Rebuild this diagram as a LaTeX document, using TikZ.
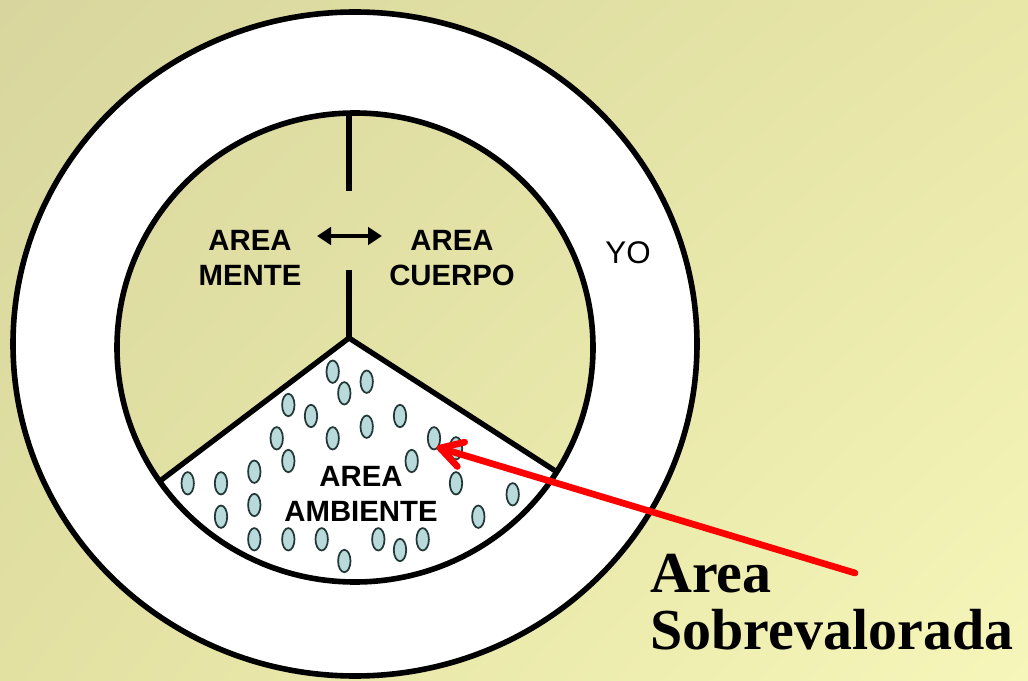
\documentclass[tikz,border=0pt]{standalone}
\usepackage{fontspec}
\setsansfont{Liberation Sans}
\newfontfamily\labelserif{Liberation Serif}
\usetikzlibrary{arrows.meta,shadings,calc}
\definecolor{bgUL}{RGB}{216,214,158}
\definecolor{bgUR}{RGB}{232,231,168}
\definecolor{bgLL}{RGB}{226,225,162}
\definecolor{bgLR}{RGB}{247,246,186}
\definecolor{dotfill}{RGB}{185,218,218}
\definecolor{dotline}{RGB}{35,55,55}
\definecolor{arrowred}{RGB}{255,0,0}
\tikzset{
  ringline/.style={line width=4.2pt, draw=black},
  divider/.style={line width=3.8pt, draw=black},
  dotshape/.style={fill=dotfill, draw=dotline, line width=1.3pt},
  arealabel/.style={font=\sffamily\bfseries\fontsize{22}{26}\selectfont, align=center, inner sep=0pt},
  yolabel/.style={font=\sffamily\fontsize{23.5}{28}\selectfont, inner sep=0pt},
  biglabel/.style={font=\labelserif\bfseries\fontsize{43.5}{43}\selectfont, inner sep=0pt, anchor=base west},
  redline/.style={draw=arrowred, line width=5pt, line cap=round, line join=round},
}
\newcommand{\spot}[2]{\fill[dotshape] (#1,#2) ellipse [x radius=6.2, y radius=11.2];}
\begin{document}
\begin{tikzpicture}[x=0.75pt, y=-0.75pt]
\useasboundingbox (0,0) rectangle (1028,681);
\shade[upper left=bgUL, upper right=bgUR, lower left=bgLL, lower right=bgLR] (0,0) rectangle (1028,681);

% centres
\coordinate (oc) at (355,344);
\coordinate (ic) at (355,347.5);
% ring (YO)
\fill[white, even odd rule] (oc) ellipse [x radius=342, y radius=332] (ic) ellipse [x radius=238, y radius=234.5];

% wedge (ambiente)
\coordinate (apex) at (349,338);
\coordinate (lext) at (-29,624);
\coordinate (rext) at (765,606);
\begin{scope}
  \clip (ic) ellipse [x radius=238, y radius=234.5];
  \fill[white] (apex) -- (lext) -- (-29,900) -- (765,900) -- (rext) -- cycle;
  \spot{332.7}{371.7}
  \spot{366.7}{381.7}
  \spot{344.3}{393.3}
  \spot{288.3}{405}
  \spot{311}{416}
  \spot{400}{416}
  \spot{366.7}{426.7}
  \spot{276.7}{438.3}
  \spot{332.7}{438.3}
  \spot{434}{438.3}
  \spot{456}{448.3}
  \spot{288.3}{461}
  \spot{411.7}{461}
  \spot{254.3}{471.7}
  \spot{187.7}{483.3}
  \spot{221}{483.3}
  \spot{456}{483.3}
  \spot{512.7}{494.3}
  \spot{221}{516.7}
  \spot{254.3}{505}
  \spot{478.3}{516.7}
  \spot{254.3}{539.3}
  \spot{288.3}{539.3}
  \spot{321.7}{539.3}
  \spot{378.3}{539.3}
  \spot{422.7}{539.3}
  \spot{400}{550}
  \spot{344.3}{561}
  \draw[divider, line width=4pt, line join=miter] (lext) -- (apex) -- (rext);
\end{scope}

% vertical divider
\coordinate (vtop) at (349,113);
\coordinate (vtopend) at (349,191);
\coordinate (vbot) at (349,270);
\draw[divider] (vtop) -- (vtopend);
\draw[divider] (vbot) -- (apex);

% circles
\draw[ringline] (oc) ellipse [x radius=342, y radius=332];
\draw[ringline] (ic) ellipse [x radius=238, y radius=234.5];

% double arrow
\coordinate (dl) at (317,236);
\coordinate (dr) at (382,236);
\draw[line width=2.8pt, {Triangle[length=10.5pt,width=13pt]}-{Triangle[length=10.5pt,width=13pt]}] (dl) -- (dr);

% labels
\node[arealabel] (mente) at (250,258) {AREA\\MENTE};
\node[arealabel] (cuerpo) at (452,258) {AREA\\CUERPO};
\node[arealabel] (ambiente) at (361,494) {AREA\\AMBIENTE};
\node[yolabel] (yo) at (628,253) {YO};
\node[biglabel] (area) at (650,592) {Area};
\node[biglabel] (sobre) at (650,649) {Sobrevalorada};

% red arrow
\coordinate (rstart) at (855,573);
\coordinate (rtip) at (440,448);
\draw[redline] (rstart) -- (rtip);
\draw[redline] ($(rtip)!19pt!30:(rstart)$) -- (rtip) -- ($(rtip)!19pt!-30:(rstart)$);
\end{tikzpicture}
\end{document}
